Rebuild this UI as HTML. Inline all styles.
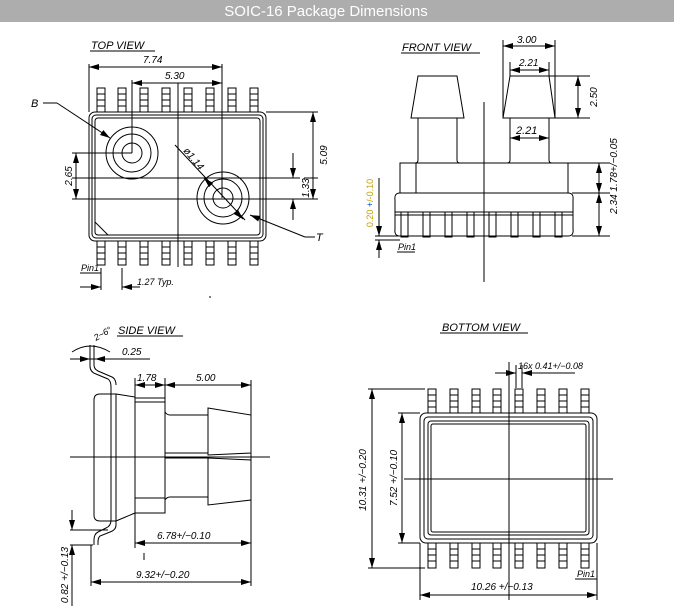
<!DOCTYPE html>
<html><head><meta charset="utf-8"><style>
body{margin:0;background:#fff;width:674px;height:606px;overflow:hidden}
svg{display:block}
text{font-family:"Liberation Sans",sans-serif;font-style:italic;font-size:10px;fill:#000}
.t{font-size:11px}
</style></head><body>
<svg id="s" width="674" height="606" viewBox="0 0 674 606" xmlns="http://www.w3.org/2000/svg">
<defs>
<marker id="a" viewBox="0 0 10 6" refX="10" refY="3" markerWidth="10" markerHeight="6" markerUnits="userSpaceOnUse" orient="auto-start-reverse"><path d="M0,0L10,3L0,6z" fill="#000"/></marker>
</defs>
<rect x="0" y="0" width="674" height="22" fill="#adadad"/>
<text x="326" y="16" text-anchor="middle" style="font-style:normal;font-size:15px;fill:#fff">SOIC-16 Package Dimensions</text>
<g fill="none" stroke="#000" stroke-width="1" id="g">
<!-- TOP VIEW -->
<rect x="89" y="112" width="177" height="129" rx="6"/>
<rect x="92" y="115" width="171" height="123" rx="4"/>
<rect x="95" y="118" width="165" height="117" rx="3"/>
<line x1="95" y1="222" x2="108" y2="235"/>
<circle cx="132" cy="153" r="26"/><circle cx="132" cy="153" r="19"/><circle cx="132" cy="153" r="10"/>
<circle cx="223" cy="198" r="26"/><circle cx="223" cy="198" r="19"/><circle cx="223" cy="198" r="10"/>
<line x1="89" y1="64" x2="89" y2="112"/><line x1="222" y1="64" x2="222" y2="198"/>
<line x1="89" y1="67" x2="222" y2="67" marker-start="url(#a)" marker-end="url(#a)"/>
<line x1="132" y1="80" x2="132" y2="153"/>
<line x1="132" y1="83" x2="222" y2="83" marker-start="url(#a)" marker-end="url(#a)"/>
<line x1="178" y1="83" x2="178" y2="267"/>
<line x1="43" y1="103" x2="57" y2="103"/><line x1="57" y1="103" x2="110" y2="138" marker-end="url(#a)"/>
<line x1="72" y1="153" x2="132" y2="153"/>
<line x1="72" y1="199" x2="318" y2="199"/>
<line x1="72" y1="178" x2="300" y2="178"/><line x1="304" y1="178" x2="318" y2="178"/>
<line x1="76" y1="153" x2="76" y2="199" marker-start="url(#a)" marker-end="url(#a)"/>
<line x1="293" y1="153" x2="293" y2="178" marker-end="url(#a)"/>
<line x1="293" y1="220" x2="293" y2="199" marker-end="url(#a)"/>
<line x1="266" y1="112" x2="318" y2="112"/>
<line x1="313" y1="112" x2="313" y2="199" marker-start="url(#a)" marker-end="url(#a)"/>
<line x1="175" y1="145" x2="245" y2="220"/>
<line x1="210" y1="184" x2="204" y2="178" marker-end="url(#a)"/>
<line x1="237" y1="213" x2="243" y2="219" marker-end="url(#a)"/>
<line x1="305" y1="237" x2="250" y2="215" marker-end="url(#a)"/>
<line x1="305" y1="237" x2="315" y2="237"/>
<line x1="101" y1="268" x2="101" y2="290"/><line x1="122" y1="268" x2="122" y2="290"/>
<line x1="80" y1="287" x2="101" y2="287" marker-end="url(#a)"/>
<line x1="140" y1="287" x2="122" y2="287" marker-end="url(#a)"/>
<line x1="80" y1="273" x2="101" y2="273"/>
<line x1="210" y1="296" x2="210" y2="298"/>
<!-- FRONT VIEW -->
<path d="M418,76H457L464,118H411Z"/><path d="M510,76H549L555,118H503Z"/>
<path d="M418,118V160Q418,163 415,163M457,118V160Q457,163 460,163"/>
<path d="M510,118V160Q510,163 507,163M549,118V160Q549,163 552,163"/>
<rect x="400" y="163" width="168" height="30"/>
<line x1="416" y1="163" x2="416" y2="193"/>
<path d="M400,193H568Q574,193 573,200V229Q574,236 568,236H400Q394,236 395,229V200Q394,193 400,193Z"/>
<line x1="395" y1="212" x2="573" y2="212"/><line x1="395" y1="215" x2="573" y2="215"/>
<line x1="484" y1="102" x2="484" y2="282"/>
<line x1="503" y1="40" x2="503" y2="118"/><line x1="555" y1="40" x2="555" y2="118"/>
<line x1="503" y1="46" x2="555" y2="46" marker-start="url(#a)" marker-end="url(#a)"/>
<line x1="510" y1="62" x2="510" y2="76"/><line x1="549" y1="62" x2="549" y2="76"/>
<line x1="510" y1="70" x2="549" y2="70" marker-start="url(#a)" marker-end="url(#a)"/>
<line x1="510" y1="138" x2="549" y2="138" marker-start="url(#a)" marker-end="url(#a)"/>
<line x1="549" y1="76" x2="590" y2="76"/><line x1="555" y1="118" x2="590" y2="118"/>
<line x1="578" y1="76" x2="578" y2="118" marker-start="url(#a)" marker-end="url(#a)"/>
<line x1="568" y1="163" x2="610" y2="163"/><line x1="572" y1="193" x2="610" y2="193"/><line x1="572" y1="236" x2="610" y2="236"/>
<line x1="599" y1="163" x2="599" y2="193" marker-start="url(#a)" marker-end="url(#a)"/>
<line x1="599" y1="193" x2="599" y2="236" marker-start="url(#a)" marker-end="url(#a)"/>
<line x1="375" y1="236" x2="400" y2="236"/><line x1="375" y1="240" x2="400" y2="240"/>
<line x1="379" y1="178" x2="379" y2="236" marker-end="url(#a)"/>
<line x1="379" y1="258" x2="379" y2="240" marker-end="url(#a)"/>
<line x1="397" y1="252" x2="415" y2="252"/>
<!-- SIDE VIEW -->
<path d="M100,394H116V521H100Q94,521 94,515V400Q94,394 100,394Z"/>
<path d="M116,394L135,397V513L116,521"/>
<rect x="135" y="398" width="30" height="115"/>
<line x1="135" y1="402" x2="165" y2="402"/><line x1="135" y1="498" x2="165" y2="498"/>
<path d="M165,412Q167,415 170,415H208M165,453H208M165,458H208M165,500Q167,497 170,497H208"/>
<path d="M208,408L251,415V453L208,455Z"/><path d="M208,458L251,460V500L208,505Z"/>
<path d="M90,345V366Q90,372 96,374L108,379Q111,381 111,387V520Q111,526 106,528L98,532Q94,534 94,540V545"/>
<path d="M94,345V365Q94,369 98,371L112,377Q116,379 116,385"/>
<path d="M116,521V525Q116,530 110,532L100,536Q98,538 98,542V545"/>
<line x1="70" y1="457" x2="270" y2="457"/>
<line x1="70" y1="359" x2="150" y2="359"/>
<line x1="82" y1="359" x2="90" y2="359" marker-end="url(#a)"/>
<line x1="105" y1="359" x2="95" y2="359" marker-end="url(#a)"/>
<path d="M72,352Q90,340 110,352"/>
<line x1="135" y1="378" x2="135" y2="398"/><line x1="165" y1="378" x2="165" y2="398"/>
<line x1="135" y1="385" x2="165" y2="385" marker-start="url(#a)" marker-end="url(#a)"/>
<line x1="165" y1="385" x2="251" y2="385" marker-start="url(#a)" marker-end="url(#a)"/>
<line x1="251" y1="380" x2="251" y2="586"/>
<line x1="135" y1="513" x2="135" y2="548"/>
<line x1="135" y1="543" x2="251" y2="543" marker-start="url(#a)" marker-end="url(#a)"/>
<line x1="144" y1="553" x2="144" y2="560"/>
<line x1="91" y1="545" x2="91" y2="586"/>
<line x1="91" y1="582" x2="251" y2="582" marker-start="url(#a)" marker-end="url(#a)"/>
<line x1="70" y1="530" x2="108" y2="530"/><line x1="70" y1="545" x2="93" y2="545"/>
<line x1="72" y1="510" x2="72" y2="530" marker-end="url(#a)"/>
<line x1="72" y1="606" x2="72" y2="545" marker-end="url(#a)"/>
<!-- BOTTOM VIEW -->
<rect x="420" y="413" width="177" height="130" rx="6"/>
<rect x="424" y="417" width="169" height="122" rx="4"/>
<rect x="428" y="421" width="161" height="114" rx="3"/>
<rect x="431" y="424" width="155" height="108" rx="2"/>
<line x1="509" y1="362" x2="509" y2="600"/>
<line x1="404" y1="479" x2="613" y2="479"/>
<line x1="368" y1="389" x2="425" y2="389"/><line x1="368" y1="568" x2="425" y2="568"/>
<line x1="372" y1="389" x2="372" y2="568" marker-start="url(#a)" marker-end="url(#a)"/>
<line x1="398" y1="413" x2="420" y2="413"/><line x1="398" y1="543" x2="420" y2="543"/>
<line x1="402" y1="413" x2="402" y2="543" marker-start="url(#a)" marker-end="url(#a)"/>
<line x1="516" y1="365" x2="516" y2="388"/><line x1="522" y1="365" x2="522" y2="388"/>
<line x1="495" y1="373" x2="516" y2="373" marker-end="url(#a)"/>
<line x1="575" y1="373" x2="522" y2="373" marker-end="url(#a)"/>
<line x1="420" y1="543" x2="420" y2="600"/><line x1="597" y1="543" x2="597" y2="600"/>
<line x1="420" y1="595" x2="597" y2="595" marker-start="url(#a)" marker-end="url(#a)"/>
<line x1="575" y1="579" x2="597" y2="579"/>
</g>
<g stroke="#000" stroke-width="1">
<line x1="90" y1="51" x2="155" y2="51"/><line x1="401" y1="53" x2="480" y2="53"/>
<line x1="117" y1="336" x2="183" y2="336"/><line x1="440" y1="333" x2="528" y2="333"/>
</g>
<text class="t" x="91" y="49">TOP  VIEW</text>
<text x="143" y="63">7.74</text>
<text x="165" y="79">5.30</text>
<text class="t" x="31" y="107">B</text>
<text x="72" y="176" transform="rotate(-90 72 176)" text-anchor="middle">2.65</text>
<text x="309" y="188" transform="rotate(-90 309 188)" text-anchor="middle">1.33</text>
<text x="327" y="155" transform="rotate(-90 327 155)" text-anchor="middle">5.09</text>
<text x="183" y="151" transform="rotate(50 183 151)">ø1.14</text>
<text class="t" x="316" y="241">T</text>
<text x="81" y="271" style="font-size:9px">Pin1</text>
<text x="137" y="285" style="font-size:9px">1.27  Typ.</text>
<text class="t" x="402" y="51">FRONT  VIEW</text>
<text x="517" y="43">3.00</text>
<text x="519" y="66">2.21</text>
<text x="516" y="134" class="t">2.21</text>
<text x="597" y="97" transform="rotate(-90 597 97)" text-anchor="middle">2.50</text>
<text x="617" y="176" transform="rotate(-90 617 176)" text-anchor="middle">2.34   1.78+/−0.05</text>
<text x="373" y="203" transform="rotate(-90 373 203)" text-anchor="middle" style="font-size:9px;font-style:normal;fill:#c8a000">0.20 <tspan style="fill:#1060c0">+</tspan>/-0.10</text>
<text x="398" y="250" style="font-size:9px">Pin1</text>
<text class="t" x="118" y="334">SIDE  VIEW</text>
<text x="96" y="341" transform="rotate(-30 96 341)" style="font-size:9px">2~6°</text>
<text x="122" y="355">0.25</text>
<text x="137" y="381">1.78</text>
<text x="196" y="381">5.00</text>
<text x="157" y="539">6.78+/−0.10</text>
<text x="136" y="578">9.32+/−0.20</text>
<text x="68" y="575" transform="rotate(-90 68 575)" text-anchor="middle">0.82  +/−0.13</text>
<text class="t" x="442" y="331">BOTTOM  VIEW</text>
<text x="518" y="369" style="font-size:9px">16x  0.41+/−0.08</text>
<text x="366" y="480" transform="rotate(-90 366 480)" text-anchor="middle">10.31  +/−0.20</text>
<text x="397" y="478" transform="rotate(-90 397 478)" text-anchor="middle">7.52  +/−0.10</text>
<text x="471" y="590">10.26  +/−0.13</text>
<text x="577" y="577" style="font-size:9px">Pin1</text>
</svg>
<script>
var g=document.getElementById('g'),ns='http://www.w3.org/2000/svg';
function r(x,y,w,h){var e=document.createElementNS(ns,'rect');e.setAttribute('x',x);e.setAttribute('y',y);e.setAttribute('width',w);e.setAttribute('height',h);g.appendChild(e);}
function l(a,b,c,d){var e=document.createElementNS(ns,'line');e.setAttribute('x1',a);e.setAttribute('y1',b);e.setAttribute('x2',c);e.setAttribute('y2',d);g.appendChild(e);}
function pins(xs,y0,y1,w){xs.forEach(function(c){var x=c-w/2;r(x,y0,w,y1-y0);for(var y=y0+6;y<y1-2;y+=6)l(x,y,x+w,y);});}
var tv=[101,122,144,166,188,210,232,254];
pins(tv,88,112,8);pins(tv,241,265,8);
var bv=[432,454,476,497,519,541,563,585];
pins(bv,389,413,8);pins(bv,543,568,8);
[404,426,448,470,492,514,536,558].forEach(function(c){r(c-3,212,7,25);});
</script>
</body></html>
